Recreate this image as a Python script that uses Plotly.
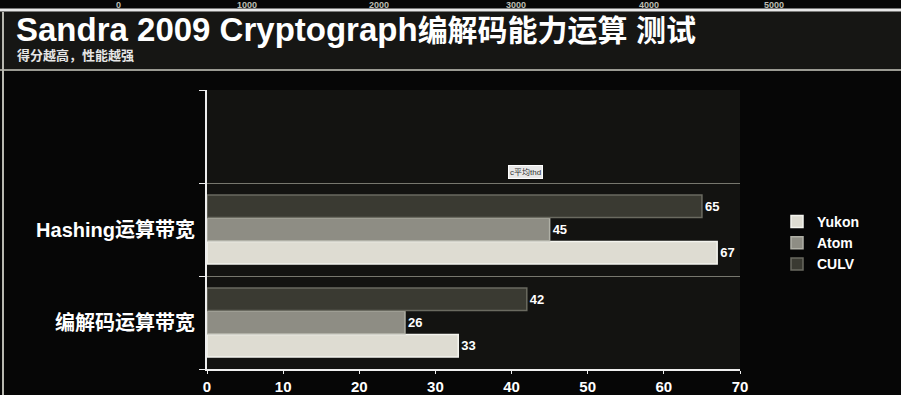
import plotly.graph_objects as go

# ---- data ----
categories = ["编解码运算带宽", "Hashing运算带宽", " "]
yukon = [33, 67, None]
atom = [26, 45, None]
culv = [42, 65, None]
series_names = ["Yukon", "Atom", "CULV"]
x_ticks = [0, 10, 20, 30, 40, 50, 60, 70]
top_strip_labels = ["0", "1000", "2000", "3000", "4000", "5000"]
top_strip_x = [118, 247, 379, 516, 649, 774]

W, H = 901, 395
L, R, T, B = 207, 161, 90, 26
PW, PH = W - L - R, H - T - B


def px(p):
    return (p - L) / PW


def py(p):
    return (H - B - p) / PH


FONT = "Liberation Sans, Arial, Noto Sans CJK SC, sans-serif"
CJK = "Liberation Sans, Noto Sans CJK SC, sans-serif"

colors = ["#dedcd2", "#8e8d84", "#3a3a32"]
lines = ["#f4f4ee", "#b0b0a6", "#6a6a60"]
values = [yukon, atom, culv]

fig = go.Figure()
for name, vals, c, lc in zip(series_names, values, colors, lines):
    fig.add_trace(go.Bar(
        y=categories, x=vals, name=name, orientation="h",
        marker=dict(color=c, line=dict(color=lc, width=1.5)),
        texttemplate="%{x}", textposition="outside",
        textfont=dict(color="white", size=13, family=FONT, weight="bold"),
        cliponaxis=False,
    ))

title_html = ('<span style="font-size:33px">Sandra 2009 Cryptograph</span>'
              '<span style="font-size:30px">编解码能力运算 测试</span>')

annotations = [
    dict(text="<b>" + title_html + "</b>",
         xref="paper", yref="paper", x=px(14), y=py(29), xanchor="left", yanchor="middle",
         showarrow=False, font=dict(size=30, color="white", family=CJK)),
    dict(text="<b>得分越高，性能越强</b>",
         xref="paper", yref="paper", x=px(15), y=py(56), xanchor="left", yanchor="middle",
         showarrow=False, font=dict(size=13, color="#e6e6e6", family=CJK)),
    dict(text="c平均thd", xref="paper", yref="paper", x=px(525), y=py(172),
         xanchor="center", yanchor="middle", showarrow=False, bgcolor="#e8e8e8",
         bordercolor="#ffffff", borderwidth=1, borderpad=1,
         font=dict(size=8, color="#333", family=CJK)),
]
for lab, xp in zip(top_strip_labels, top_strip_x):
    annotations.append(dict(text="<b>%s</b>" % lab, xref="paper", yref="paper",
                            x=px(xp), y=py(4.5), xanchor="center", yanchor="middle",
                            showarrow=False, font=dict(size=9, color="#bdbdb4", family=FONT)))

shapes = [
    dict(type="line", xref="paper", yref="paper", x0=px(0), x1=px(W), y0=py(10), y1=py(10),
         line=dict(color="#e8e8e8", width=3)),
    dict(type="line", xref="paper", yref="paper", x0=px(0), x1=px(W), y0=py(70), y1=py(70),
         line=dict(color="#9a9a92", width=2)),
    dict(type="line", xref="paper", yref="paper", x0=px(3), x1=px(3), y0=py(12), y1=py(H),
         line=dict(color="#b8b8b0", width=2)),
    dict(type="rect", xref="paper", yref="paper", x0=px(0), x1=px(W), y0=py(11.5), y1=py(69),
         fillcolor="#161614", line=dict(width=0), layer="below"),
]

fig.update_layout(
    width=W, height=H,
    margin=dict(l=L, r=R, t=T, b=B, autoexpand=False),
    paper_bgcolor="#060606",
    plot_bgcolor="#131311",
    barmode="group", bargap=0.25, bargroupgap=0.04,
    font=dict(family=FONT, color="white"),
    showlegend=True,
    legend=dict(x=px(777), y=py(243), xanchor="left", yanchor="middle",
                bgcolor="rgba(0,0,0,0)",
                font=dict(size=14, color="white", family=FONT, weight="bold"),
                traceorder="normal", itemwidth=30, tracegroupgap=0),
    xaxis=dict(range=[0, 70], tickvals=x_ticks, automargin=False,
               showgrid=False, zeroline=False, showline=True, linecolor="#eeeeee", linewidth=2,
               ticks="outside", ticklen=3, tickcolor="#eeeeee",
               tickfont=dict(size=15, color="white", family=FONT, weight="bold")),
    yaxis=dict(type="category", categoryorder="array", categoryarray=categories,
               range=[-0.5, 2.5], tickson="boundaries", automargin=False,
               showgrid=True, gridcolor="#77776e", gridwidth=1,
               showline=True, linecolor="#eeeeee", linewidth=2,
               ticks="outside", ticklen=6, tickcolor="#eeeeee", ticklabelstandoff=6,
               tickfont=dict(size=20, color="white", family=CJK, weight="bold")),
    annotations=annotations,
    shapes=shapes,
)

fig.write_html(
    "out.html",
    config={"displayModeBar": False},
    post_script="document.body.style.margin='0';document.body.style.background='#060606';",
)
